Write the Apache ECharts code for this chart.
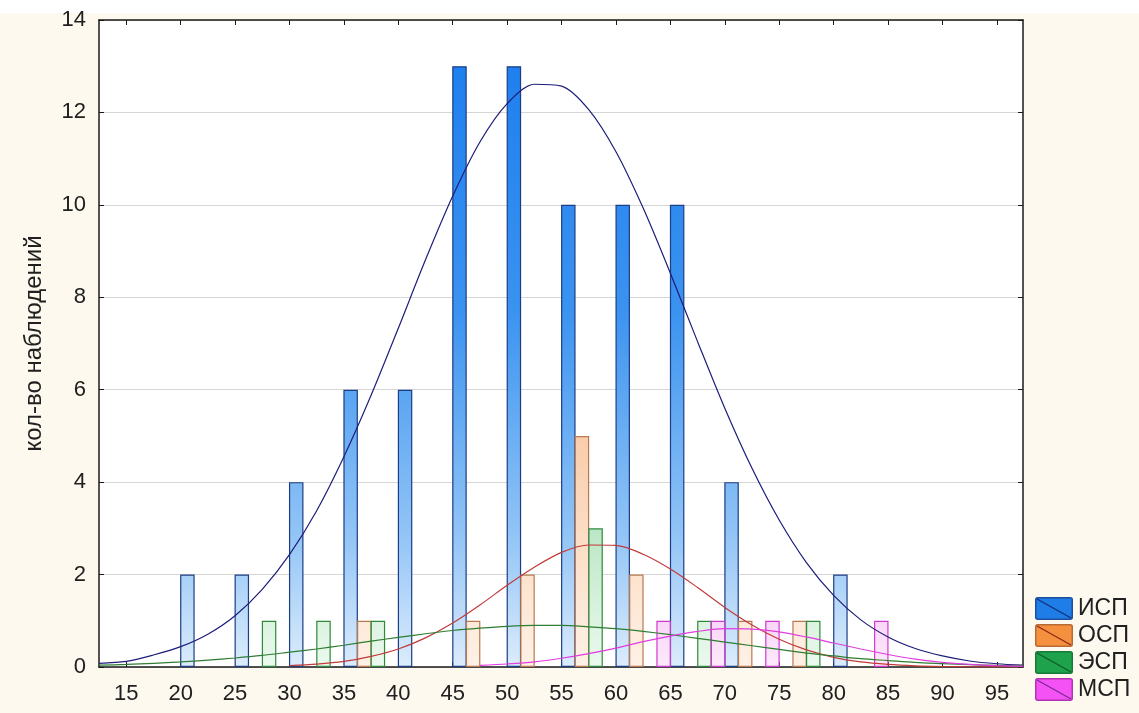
<!DOCTYPE html>
<html>
<head>
<meta charset="utf-8">
<script src="https://cdn.jsdelivr.net/npm/echarts@6/dist/echarts.min.js"></script>
<style>
  html, body { margin: 0; padding: 0; background: #fdf9ef; }
  #chart { width: 1139px; height: 713px; }
</style>
</head>
<body>
<div id="chart"></div>
<script>
// левые границы интервалов, шаг 5
const bins = [15, 20, 25, 30, 35, 40, 45, 50, 55, 60, 65, 70, 75, 80, 85, 90];
const binWidth = 5;

// кол-во наблюдений по группам
const isp = [0, 2, 2, 4, 6, 6, 13, 13, 10, 10, 10, 4, 0, 2, 0, 0];
const osp = [0, 0, 0, 0, 1, 0, 1, 2, 5, 2, 0, 1, 1, 0, 0, 0];
const esp = [0, 0, 1, 1, 1, 0, 0, 0, 3, 0, 1, 0, 1, 0, 0, 0];
const msp = [0, 0, 0, 0, 0, 0, 0, 0, 0, 1, 1, 1, 0, 1, 0, 0];

const tickLabels = [15, 20, 25, 30, 35, 40, 45, 50, 55, 60, 65, 70, 75, 80, 85, 90, 95];

// кривые нормального распределения
const curveX = [12.5, 15, 17.5, 20, 22.5, 25, 27.5, 30, 32.5, 35, 37.5, 40, 42.5, 45, 47.5, 50,
  52.5, 55, 57.5, 60, 62.5, 65, 67.5, 70, 72.5, 75, 77.5, 80, 82.5, 85, 87.5, 90, 92.5, 95, 97.4];
const ispCurve = [0.08, 0.12, 0.26, 0.44, 0.71, 1.11, 1.68, 2.43, 3.38, 4.55, 5.88, 7.33, 8.81, 10.19, 11.36, 12.19,
  12.61, 12.57, 12.06, 11.15, 9.93, 8.52, 7.04, 5.6, 4.3, 3.18, 2.26, 1.55, 1.02, 0.65, 0.4, 0.24, 0.13, 0.07, 0.04];
const ospCurve = [null, null, null, null, null, null, null, 0.029, 0.061, 0.12, 0.23, 0.39, 0.63, 0.95, 1.34, 1.77,
  2.16, 2.48, 2.64, 2.63, 2.44, 2.12, 1.72, 1.29, 0.91, 0.6, 0.37, 0.21, 0.11, 0.056, 0.026, 0.011, 0.005, 0.002, 0.001];
const espCurve = [0.04, 0.055, 0.08, 0.11, 0.15, 0.195, 0.25, 0.32, 0.39, 0.47, 0.56, 0.64, 0.72, 0.79, 0.84, 0.88,
  0.9, 0.9, 0.87, 0.83, 0.77, 0.7, 0.62, 0.54, 0.46, 0.38, 0.3, 0.24, 0.18, 0.14, 0.1, 0.074, 0.05, 0.035, 0.025];
const mspCurve = [null, null, null, null, null, null, null, null, null, null, null, null, null, null, 0.034, 0.065,
  0.11, 0.19, 0.29, 0.41, 0.55, 0.67, 0.77, 0.83, 0.82, 0.76, 0.65, 0.52, 0.39, 0.27, 0.17, 0.1, 0.057, 0.03, 0.015];

const FONT = '"Liberation Sans", Arial, sans-serif';
const gridTop = 20, gridBottom = 667;

// градиент по всей высоте поля графика
function grad(stops) {
  return new echarts.graphic.LinearGradient(0, gridTop, 0, gridBottom,
    stops.map(s => ({ offset: s[0], color: s[1] })), true);
}

function legendIcon(fill, stroke, diag) {
  const svg = '<svg xmlns="http://www.w3.org/2000/svg" width="38" height="23" viewBox="0 0 38 23">' +
    '<rect x="0.75" y="0.75" width="36.5" height="21.5" rx="2" fill="' + fill + '" stroke="' + stroke + '" stroke-width="1.5"/>' +
    '<line x1="2" y1="2" x2="36" y2="21" stroke="' + diag + '" stroke-width="1.3"/></svg>';
  return 'image://data:image/svg+xml;charset=utf-8,' + encodeURIComponent(svg);
}

function barData(vals) {
  return bins.map((b, i) => [b + binWidth / 2, vals[i] === 0 ? null : vals[i]]);
}
function curveData(vals) {
  return curveX.map((x, i) => [x, vals[i]]).filter(p => p[1] !== null);
}

function bar(name, vals, stops, border) {
  return {
    name: name, type: 'bar', xAxisIndex: 0, yAxisIndex: 0,
    data: barData(vals),
    barWidth: 14.5, barGap: '-6%',
    itemStyle: { color: grad(stops), borderColor: border, borderWidth: 1.2 },
    emphasis: { disabled: true }
  };
}
function curve(name, vals, color) {
  return {
    name: name, type: 'line', xAxisIndex: 0, yAxisIndex: 0,
    data: curveData(vals), smooth: 0.3, symbol: 'none',
    lineStyle: { color: color, width: 1.2 },
    emphasis: { disabled: true }
  };
}

const chart = echarts.init(document.getElementById('chart'));
const axisColor = '#1a1a1a';
const xCommon = {
  type: 'value', min: 12.5, max: 97.4,
  axisLine: { show: true, onZero: false, lineStyle: { color: axisColor, width: 1.5 } },
  splitLine: { show: false }
};
const yCommon = {
  type: 'value', min: 0, max: 14, interval: 2,
  axisLine: { show: true, lineStyle: { color: axisColor, width: 1.5 } }
};

chart.setOption({
  backgroundColor: '#fdf9ef',
  animation: false,
  textStyle: { fontFamily: FONT },
  graphic: [{
    type: 'rect', left: 0, top: 0, z: -1,
    shape: { width: 1139, height: 13 }, style: { fill: '#ffffff' }
  }, {
    type: 'rect', left: 99, top: gridTop, z: -1,
    shape: { width: 924, height: gridBottom - gridTop }, style: { fill: '#ffffff' }
  }],
  grid: { left: 99, right: 116, top: gridTop, bottom: 713 - gridBottom },
  legend: {
    orient: 'vertical', left: 1035, top: 597, padding: 0,
    itemWidth: 38, itemHeight: 23, itemGap: 4,
    selectedMode: false,
    textStyle: { fontFamily: FONT, fontSize: 23, color: '#202020' },
    data: [
      { name: 'ИСП', icon: legendIcon('#1f7de8', '#1b4f9e', '#12307a') },
      { name: 'ОСП', icon: legendIcon('#f5903e', '#b86a33', '#8a2a1a') },
      { name: 'ЭСП', icon: legendIcon('#1ea34c', '#177a38', '#0f5a26') },
      { name: 'МСП', icon: legendIcon('#f452f4', '#b233b2', '#7a2a9a') }
    ]
  },
  xAxis: [
    Object.assign({}, xCommon, {
      position: 'bottom',
      axisTick: { show: true, inside: true, length: 5, customValues: tickLabels, lineStyle: { color: axisColor } },
      axisLabel: { show: true, customValues: tickLabels, margin: 16, fontSize: 22, color: '#202020', fontFamily: FONT }
    }),
    Object.assign({}, xCommon, {
      position: 'top',
      axisTick: { show: true, inside: true, length: 5, customValues: tickLabels, lineStyle: { color: axisColor } },
      axisLabel: { show: false }
    })
  ],
  yAxis: [
    Object.assign({}, yCommon, {
      position: 'left',
      name: 'кол-во наблюдений', nameLocation: 'middle', nameGap: 53,
      nameTextStyle: { fontSize: 24, color: '#202020', fontFamily: FONT },
      axisTick: { show: true, inside: true, length: 5, lineStyle: { color: axisColor } },
      axisLabel: { show: true, margin: 13, fontSize: 22, color: '#202020', fontFamily: FONT },
      splitLine: { show: true, lineStyle: { color: '#d6d6d6', width: 1 } }
    }),
    Object.assign({}, yCommon, {
      position: 'right',
      axisTick: { show: true, inside: true, length: 5, lineStyle: { color: axisColor } },
      axisLabel: { show: false },
      splitLine: { show: false }
    })
  ],
  series: [
    bar('ИСП', isp, [[0, '#1a7cee'], [0.45, '#3b93f0'], [0.8, '#93c5f6'], [1, '#dcecfc']], '#1d3d84'),
    curve('ИСП кривая', ispCurve, '#1d1d7a'),
    bar('ОСП', osp, [[0, '#f09040'], [0.6, '#f8c9a4'], [1, '#fff1e6']], '#b87a50'),
    curve('ОСП кривая', ospCurve, '#c23a3a'),
    bar('ЭСП', esp, [[0, '#1e9e4a'], [0.75, '#b3e4bf'], [1, '#ecf9ef']], '#2f8a3c'),
    curve('ЭСП кривая', espCurve, '#2e7d32'),
    bar('МСП', msp, [[0, '#f050f0'], [0.9, '#f8cef5'], [1, '#fdeafc']], '#d03ad0'),
    curve('МСП кривая', mspCurve, '#e03ce0')
  ]
});
</script>
</body>
</html>
